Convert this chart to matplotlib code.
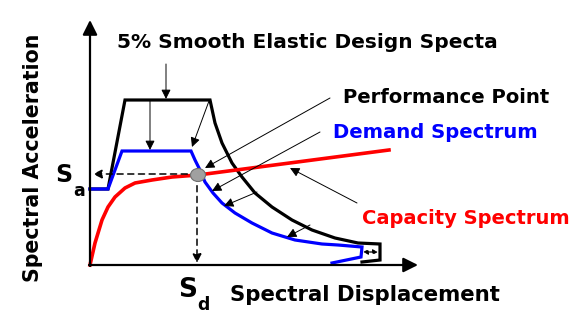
import matplotlib
matplotlib.use("Agg")
import matplotlib.pyplot as plt
from matplotlib.patches import Ellipse

# Shape data (Sd = horizontal, Sa = vertical, diagram units)
elastic_sd = [0, 18, 35, 120, 125, 132, 142, 152, 165, 182, 202, 222, 245, 268, 290, 290, 272]
elastic_sa = [76, 76, 165, 165, 142, 122, 102, 88, 72, 58, 45, 35, 27, 22, 21, 5, 3]

demand_sd = [0, 18, 32, 101, 105, 110, 115, 123, 132, 145, 162, 182, 205, 232, 248, 272, 271, 242]
demand_sa = [76, 76, 114, 114, 105, 95, 83, 72, 62, 52, 42, 32, 25, 21, 20, 18, 8, 2]

capacity_sd = [0, 5, 12, 18, 25, 35, 45, 62, 82, 108, 299]
capacity_sa = [0, 22, 45, 58, 68, 77, 82, 85, 88, 90, 115]

perf_sd, perf_sa = 108, 90

# thin pointer arrows: (start_sd, start_sa, tip_sd, tip_sa)
pointers = [
    (76, 201, 76, 166),
    (60, 165, 60, 115),
    (119, 164, 102, 118),
    (240, 167, 115, 97),
    (230, 133, 122, 74),
    (167, 73, 134, 59),
    (220, 40, 197, 28),
    (267, 62, 200, 97),
]

fig = plt.figure(figsize=(5.82, 3.22), dpi=100)
ax = fig.add_axes([0, 0, 1, 1])
ax.set_xlim(-90, 492)
ax.set_ylim(-57, 265)
ax.axis("off")

# axes with arrows
ax.annotate("", xy=(0, 245), xytext=(0, -1),
            arrowprops=dict(arrowstyle="-|>", lw=1.6, color="k",
                            mutation_scale=22, shrinkA=0, shrinkB=0))
ax.annotate("", xy=(328, 0), xytext=(-1, 0),
            arrowprops=dict(arrowstyle="-|>", lw=1.6, color="k",
                            mutation_scale=22, shrinkA=0, shrinkB=0))

ax.plot(elastic_sd, elastic_sa, color="black", lw=2.3, solid_joinstyle="miter")
ax.plot(demand_sd, demand_sa, color="#0000ff", lw=2.3, solid_joinstyle="miter")
ax.plot(capacity_sd, capacity_sa, color="#ff0000", lw=2.6)

# dashed guides
ax.annotate("", xy=(3, perf_sa + 1), xytext=(perf_sd, perf_sa + 1),
            arrowprops=dict(arrowstyle="-|>", lw=1.1, color="k", ls=(0, (4, 3)),
                            mutation_scale=13, shrinkA=0, shrinkB=0))
ax.annotate("", xy=(perf_sd - 1, 2), xytext=(perf_sd - 1, perf_sa),
            arrowprops=dict(arrowstyle="-|>", lw=1.1, color="k", ls=(0, (4, 3)),
                            mutation_scale=13, shrinkA=0, shrinkB=0))
ax.annotate("", xy=(288, 13), xytext=(273, 13),
            arrowprops=dict(arrowstyle="<|-|>", lw=0.9, color="k", ls=(0, (2, 2)),
                            mutation_scale=7, shrinkA=0, shrinkB=0))

ax.add_patch(Ellipse((perf_sd, perf_sa), 15, 13, facecolor="#a0a0a0",
                     edgecolor="#707070", lw=0.8, zorder=5))

for x0, y0, x1, y1 in pointers:
    ax.annotate("", xy=(x1, y1), xytext=(x0, y0),
                arrowprops=dict(arrowstyle="-|>", lw=0.7, color="k",
                                mutation_scale=14, shrinkA=0, shrinkB=0))

fp = dict(family="DejaVu Sans", fontweight="bold")
ax.text(217, 222, "5% Smooth Elastic Design Specta", ha="center", va="center",
        fontsize=14.5, color="black", **fp)
ax.text(253, 168, "Performance Point", ha="left", va="center",
        fontsize=14.1, color="black", **fp)
ax.text(243, 133, "Demand Spectrum", ha="left", va="center",
        fontsize=14.1, color="#0000ff", **fp)
ax.text(272, 47, "Capacity Spectrum", ha="left", va="center",
        fontsize=14.0, color="#ff0000", **fp)
ax.text(140, -30, "Spectral Displacement", ha="left", va="center",
        fontsize=15.3, color="black", **fp)
ax.text(-57, 107, "Spectral Acceleration", ha="center", va="center",
        rotation=90, fontsize=14.8, color="black", **fp)

ax.text(-35, 83, "S", ha="left", va="baseline", fontsize=17, **fp)
ax.text(-17, 69, "a", ha="left", va="baseline", fontsize=12.5, **fp)
ax.text(88, -32, "S", ha="left", va="baseline", fontsize=19, **fp)
ax.text(107, -45, "d", ha="left", va="baseline", fontsize=12.5, **fp)

fig.savefig("out.png", dpi=100)
